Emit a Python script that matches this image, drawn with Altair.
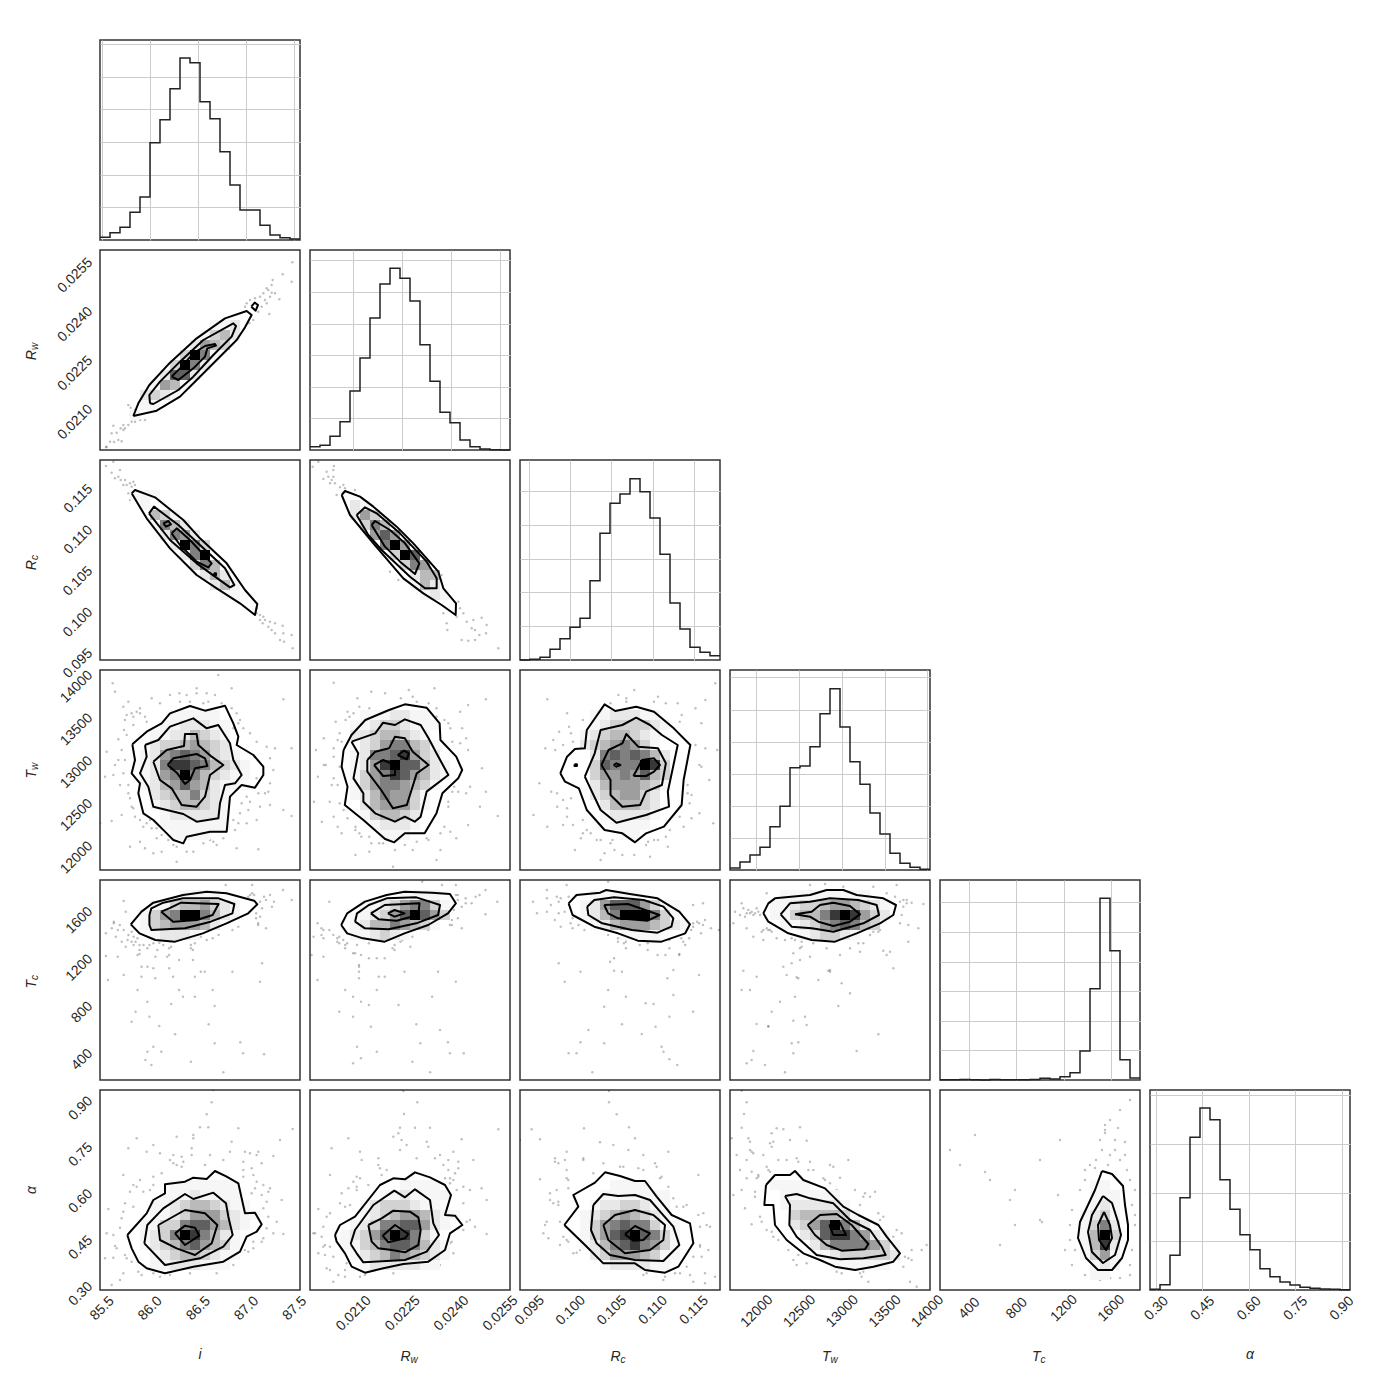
import altair as alt
import pandas as pd

FONT = "Liberation Sans"
INK = "#262626"

# parameter ranges, tick values, tick formats, names
ranges = [(85.482, 87.559), (0.019672, 0.025807), (0.09387, 0.1182), (11690, 14032), (155, 1845), (0.2806, 0.927)]
ticks = [[85.5, 86.0, 86.5, 87.0, 87.5], [0.0210, 0.0225, 0.0240, 0.0255], [0.095, 0.100, 0.105, 0.110, 0.115],
         [12000, 12500, 13000, 13500, 14000], [400, 800, 1200, 1600], [0.30, 0.45, 0.60, 0.75, 0.90]]
formats = [".1f", ".4f", ".3f", "d", "d", ".2f"]
symbols = [("i", ""), ("R", "w"), ("R", "c"), ("T", "w"), ("T", "c"), ("α", "")]
xpad = [18, 23, 20, 21, 18, 18]

# histogram heights, 20 bins per parameter, and horizontal grid step
hist_i = [2.7, 7.3, 12.7, 27.7, 43, 97.3, 120.3, 151.3, 182, 177.3, 138.3, 121.3, 88.3, 55, 30, 30, 14.7, 5, 2.3, 1]
hist_rw = [3.3, 4.7, 13.7, 28.3, 59, 92, 132, 166, 181.7, 171.7, 149, 105.3, 68.7, 37.7, 27.3, 10, 3.3, 1, .3, 0]
hist_rc = [0, .7, 2.7, 10.7, 21.3, 32.7, 41.7, 79.3, 126.7, 156.7, 166, 181.3, 168.3, 142, 105.7, 57, 31, 12.7, 7.7, 4.3]
hist_tw = [2, 8, 15, 22.7, 43.3, 63.7, 102.3, 104, 123.3, 156.3, 181.3, 143, 108.3, 85.7, 57, 36, 16.7, 6.7, 2.7, .7]
hist_tc = [.2, .2, .5, .2, .1, .5, .2, .2, .3, .5, 1.7, 1, 3.3, 7.3, 29, 91.3, 181.7, 129.3, 20.3, 2]
hist_a = [.7, 5.3, 34.7, 92.3, 152.7, 182, 170.3, 110.3, 80.7, 55.3, 40.3, 21.3, 13.3, 8, 5, 2.7, 1.7, 1, .7, .3]
hists = [hist_i, hist_rw, hist_rc, hist_tw, hist_tc, hist_a]
hist_steps = [32.65, 31.6, 33.8, 32.1, 29.6, 48.7]

# reading frames: (left, top, width, height) of the scale each panel was read on
F_600 = (0, 0, 600, 600)

# every 2-D panel: contours, shaded bins (row, first column, digits 1-9) and scatter samples
panels = {}

panels[(0, 1)] = dict(
    frame=(30, 30, 600, 600),
    contours=[
        [(130,528),(145,490),(178,435),(240,368),(320,295),(405,235),(470,213),(485,225),(465,262),(440,300),(380,360),(320,420),(270,470),(200,512)],
        [(484,200),(494,188),(504,195),(497,212)],
        [(180,490),(178,465),(210,425),(270,365),(340,300),(430,250),(438,258),(425,290),(370,345),(310,410),(265,450),(190,492)],
        [(245,410),(270,385),(310,340),(345,318),(375,312),(378,317),(352,325),(345,350),(310,385),(265,420)],
    ],
    heat=[(7,11,"112"),(8,10,"1342"),(9,9,"2543"),(10,8,"3961"),(11,7,"3962"),(12,6,"2772"),(13,5,"1541"),(14,4,"2321"),(15,4,"11"),(16,3,"1")],
    points=[(50,620),(60,605),(72,606),(85,600),(95,604),(65,580),(80,578),(92,565),(105,565),(100,555),(70,557),(115,555),(125,545),(135,545),(150,540),(165,540),(122,525),(135,510),(115,495),(122,503),(130,535),(140,535),(100,570),(48,622),
            (470,190),(480,180),(495,175),(510,170),(520,160),(530,145),(545,135),(555,160),(540,170),(525,180),(515,200),(530,190),(538,222),(505,215),(548,120),(578,103),(605,125),(607,67),(568,178),(490,240),(478,250),(465,200),(535,150),(545,158)],
)
panels[(0, 2)] = dict(
    frame=F_600,
    contours=[
        [(95,100),(105,90),(165,112),(250,180),(300,235),(380,310),(435,390),(472,432),(465,465),(420,430),(350,385),(290,345),(210,265),(140,175)],
        [(147,160),(162,140),(235,195),(300,255),(375,325),(403,375),(390,382),(345,350),(290,310),(210,240)],
        [(190,190),(205,183),(213,193),(198,200)],
        [(215,220),(230,205),(270,240),(335,310),(325,322),(290,305),(240,255)],
        [(342,340),(348,340),(348,346),(342,346)],
    ],
    heat=[(3,3,"111"),(4,4,"1"),(5,5,"431"),(6,5,"1642"),(7,6,"2652"),(8,7,"2963"),(9,8,"269"),(10,9,"364"),(11,10,"242"),(12,11,"241"),(13,12,"11")],
    points=[(18,18),(35,38),(40,5),(45,55),(60,30),(62,60),(75,60),(80,75),(90,70),(95,80),(85,100),(90,120),(70,75),(100,65),(55,50),(105,75),
            (470,445),(480,465),(490,470),(510,485),(525,490),(495,480),(505,500),(515,510),(548,497),(550,520),(575,525),(540,540),(552,545),(578,565),(525,520),(480,480),(488,490),(470,460)],
)
panels[(1, 2)] = dict(
    frame=(0, 630, 600, 600),
    contours=[
        [(95,735),(105,723),(150,740),(190,770),(260,830),(310,880),(385,965),(400,1015),(438,1060),(437,1095),(395,1065),(340,1030),(280,985),(190,880),(120,795)],
        [(140,795),(165,772),(200,790),(270,850),(350,935),(380,985),(380,1015),(345,1015),(300,980),(215,900),(175,855)],
        [(185,825),(195,813),(240,840),(285,880),(328,940),(315,972),(270,935),(225,890)],
    ],
    heat=[(4,4,"21"),(5,4,"253"),(6,5,"364"),(7,6,"575"),(8,7,"695"),(9,8,"397"),(10,9,"365"),(11,10,"244"),(12,10,"142"),(13,11,"121")],
    points=[(25,635),(8,650),(72,648),(70,660),(40,687),(55,680),(65,690),(75,700),(90,712),(105,715),(135,720),(80,735),(60,700),(50,665),(70,680),(100,705),
            (445,1055),(450,1075),(460,1090),(470,1115),(490,1110),(515,1103),(530,1125),(485,1135),(495,1140),(410,1120),(412,1140),(455,1170),(475,1172),(495,1170),(528,1150),(565,1195),(508,1155),(440,1100),(400,1090),(395,975),(240,965),(265,990)],
)
panels[(0, 3)] = dict(
    frame=(30, 30, 600, 600),
    contours=[
        [(127,253),(170,215),(215,190),(240,160),(300,138),(345,152),(405,137),(430,190),(445,230),(440,255),(490,285),(520,320),(520,345),(495,383),(455,375),(420,410),(410,515),(360,515),(290,530),(280,550),(250,540),(225,515),(190,480),(160,460),(145,400),(150,370),(125,340),(135,300)],
        [(165,255),(205,240),(240,200),(310,175),(350,205),(385,195),(420,250),(430,300),(455,345),(435,370),(405,375),(390,430),(385,475),(320,485),(280,462),(190,440),(175,380),(150,340),(170,290)],
        [(190,305),(230,270),(282,258),(285,222),(320,222),(325,255),(365,290),(400,315),(360,345),(345,410),(320,440),(275,435),(245,385),(210,360)],
        [(233,315),(250,295),(320,282),(345,295),(352,318),(315,325),(300,360),(285,372),(262,340)],
    ],
    heat=[(4,7,"11111"),(5,6,"1122211"),(6,5,"11224321"),(7,5,"23345432"),(8,4,"1256765321"),(9,4,"12688764321"),(10,4,"12569643211"),(11,4,"1245754211"),(12,5,"23446321"),(13,5,"12344321"),(14,6,"1222221"),(15,6,"1111111"),(16,7,"1111")],
    points=[(68,70),(75,95),(115,125),(100,140),(125,160),(150,145),(130,170),(105,180),(85,238),(102,210),(140,155),(170,185),(185,115),(210,130),(240,105),(268,100),(320,85),(350,100),(385,45),(425,85),(375,105),(425,145),(445,190),(460,205),(500,245),(530,260),(555,265),(605,265),(540,295),(550,330),(500,355),(535,395),(580,118),(480,220),(75,315),(50,275),(45,350),(70,345),(115,375),(105,300),(120,415),(125,440),(95,465),(65,483),(30,490),(135,470),(200,505),(215,525),(235,540),(250,555),(150,545),(165,565),(190,580),(215,575),(260,605),(310,575),(370,545),(380,555),(435,510),(445,490),(480,425),(475,450),(510,440),(540,435),(580,450),(605,468),(500,480),(470,490),(440,565),(505,568),(320,100),(340,130),(160,500),(180,480),(120,560),
            (150,160),(165,170),(110,165),(130,195),(110,225),(95,270),(85,300),(100,340),(90,375),(115,400),(130,445),(150,480),(170,490),(185,505),(200,535),(260,560),(290,575),(340,550),(360,540),(400,535),(430,480),(450,460),(455,430),(470,410),(540,370),(525,400),(505,400),(450,180),(440,160),(430,205),(395,130),(355,125),(290,105),(300,125),(270,125)],
)
panels[(1, 3)] = dict(
    frame=(0, 0, 506, 600),
    contours=[
        [(85,240),(105,195),(140,150),(200,120),(240,103),(295,113),(328,160),(330,210),(370,260),(385,300),(375,325),(335,370),(320,430),(290,490),(240,490),(213,517),(190,507),(135,450),(88,405),(95,350),(80,290)],
        [(105,215),(165,190),(185,158),(215,165),(240,148),(280,165),(300,205),(320,250),(350,315),(295,365),(280,440),(265,455),(240,440),(215,455),(165,430),(135,395),(135,370),(110,325),(122,250)],
        [(145,270),(165,245),(200,235),(215,200),(240,205),(260,245),(300,285),(270,310),(245,405),(210,415),(180,360),(145,305)],
        [(162,285),(185,270),(215,285),(215,315),(185,318)],
        [(222,255),(238,242),(250,250),(245,268)],
    ],
    heat=[(4,5,"1112211"),(5,4,"112332111"),(6,4,"22344321"),(7,5,"23566431"),(8,4,"126678532"),(9,4,"1258977421"),(10,4,"1356875421"),(11,4,"135665431"),(12,4,"12465531"),(13,5,"2455531"),(14,5,"134432"),(15,6,"12221"),(16,7,"111")],
    points=[(60,38),(155,65),(190,70),(250,60),(260,80),(315,55),(445,88),(400,105),(380,125),(120,85),(95,125),(110,130),(65,155),(75,190),(35,205),(15,240),(60,235),(40,285),(20,320),(55,345),(70,345),(10,395),(50,395),(85,420),(30,455),(70,470),(80,490),(115,480),(130,500),(155,520),(185,520),(150,545),(115,555),(210,590),(270,515),(295,505),(330,490),(355,485),(400,465),(475,438),(430,410),(350,395),(375,365),(405,350),(445,365),(435,295),(400,240),(360,215),(355,175),(385,175),(395,205),(300,100),(320,115),(340,150),(150,115),(180,135),(260,540),(330,540),(370,505),(320,570),
            (100,140),(125,110),(115,155),(90,150),(70,210),(80,215),(60,260),(35,285),(75,290),(60,325),(75,400),(60,440),(95,445),(115,470),(125,490),(150,500),(175,520),(215,540),(240,525),(300,510),(340,470),(350,410),(395,370),(365,350),(360,365),(380,220),(350,160),(230,85),(270,95),(320,140)],
)
panels[(2, 3)] = dict(
    frame=(531, 0, 506, 600),
    contours=[
        [(633,310),(650,260),(670,237),(695,235),(700,180),(745,103),(772,123),(825,110),(870,125),(920,175),(962,225),(945,330),(940,405),(895,470),(850,490),(822,517),(790,490),(745,480),(700,420),(680,355),(645,335)],
        [(695,320),(720,250),(735,180),(790,165),(825,143),(860,165),(890,195),(930,225),(905,365),(908,410),(850,435),(775,458),(735,420)],
        [(737,285),(755,240),(790,220),(800,192),(830,230),(880,235),(900,280),(890,345),(850,365),(835,405),(790,410),(760,375),(760,330)],
        [(768,285),(775,280),(785,285),(775,290)],
        [(818,318),(840,270),(870,265),(885,285),(870,305),(850,318)],
        [(669,283),(675,283),(675,288),(669,288)],
    ],
    heat=[(4,7,"1122211"),(5,7,"12333321"),(6,6,"12344321"),(7,6,"23456531"),(8,7,"26767642"),(9,7,"37666983"),(10,7,"35565743"),(11,7,"24555431"),(12,7,"2345532"),(13,8,"244432"),(14,8,"122221"),(15,9,"1111"),(16,10,"11")],
    points=[(600,88),(665,215),(630,185),(655,170),(690,150),(640,225),(595,235),(620,240),(780,75),(800,95),(820,60),(880,80),(930,100),(940,135),(975,115),(990,160),(1000,90),(1025,40),(1000,235),(985,285),(955,345),(965,375),(1010,330),(985,430),(1020,460),(1030,240),(965,445),(910,480),(945,470),(870,510),(855,515),(905,530),(860,560),(820,555),(760,520),(745,550),(735,570),(790,555),(690,450),(700,480),(650,415),(625,410),(610,365),(565,435),(600,470),(580,340),(660,385),(725,510),(685,505),(640,465),(670,540),
            (650,130),(660,190),(615,210),(625,370),(640,390),(650,440),(665,465),(690,490),(710,490),(735,510),(765,510),(770,540),(850,525),(880,510),(900,500),(935,440),(960,400),(955,370),(990,290),(975,225),(935,155),(900,100),(870,95),(800,85),(760,100),(715,140)],
)
panels[(0, 4)] = dict(
    frame=(0, 0, 506, 600),
    contours=[
        [(78,133),(105,95),(135,68),(210,45),(270,35),(320,40),(390,62),(398,73),(375,100),(320,130),(260,160),(190,185),(140,180),(100,160)],
        [(125,105),(130,85),(160,68),(210,55),(300,55),(340,72),(335,100),(280,125),(215,145),(130,150),(125,135)],
        [(155,95),(175,85),(205,68),(300,72),(285,105),(245,120),(185,125)],
    ],
    heat=[(1,8,"1111"),(2,5,"113445321"),(3,4,"1356996421"),(4,4,"13455542"),(5,5,"12221")],
    points=[(318,15),(385,15),(463,30),(430,45),(390,45),(405,65),(440,65),(485,60),(405,110),(400,135),(420,145),(380,45),(60,63),(65,95),(35,125),(30,145),(45,150),(70,180),(15,160),(55,185),(80,155),(90,185),(100,195),(125,195),(160,195),(180,200),(235,210),(230,195),(270,180),(15,228),(45,230),(100,222),(105,260),(140,230),(170,230),(200,240),(235,240),(265,275),(335,275),(240,290),(185,290),(140,295),(60,285),(20,300),(105,290),(285,330),(210,350),(120,365),(180,372),(290,378),(90,395),(125,410),(80,425),(150,438),(275,433),(190,463),(135,500),(290,490),(355,487),(120,515),(155,515),(362,520),(415,523),(115,540),(130,555),(230,545),(312,577),(405,305),(410,250),(240,350),(95,330),(200,330),
            (35,130),(50,135),(60,150),(72,165),(85,170),(95,175),(40,170),(85,195),(100,210),(95,225),(110,195),(135,190),(150,188),(175,205),(230,205),(240,190),(255,170),(285,175),(300,165),(335,150),(350,140),(395,115),(395,100),(410,85),(420,60),(435,80),(415,50),(385,40),(375,50),(400,130),(80,185),(65,200),(120,205),(145,210),(175,225),(120,260),(135,265),(175,265),(255,275)],
)
panels[(1, 4)] = dict(
    frame=(531, 0, 506, 600),
    contours=[
        [(610,135),(625,100),(670,65),(725,45),(770,35),(840,38),(885,42),(900,70),(880,100),(830,135),(770,160),(720,185),(665,175),(625,160)],
        [(645,125),(650,100),(680,75),(725,55),(800,52),(860,75),(855,105),(800,130),(730,148),(670,145)],
        [(685,100),(720,75),(808,70),(805,105),(750,122),(705,118)],
        [(728,100),(745,90),(770,100),(745,110)],
    ],
    heat=[(1,9,"1111"),(2,5,"112356631"),(3,5,"123579753"),(4,4,"124465431"),(5,4,"112321")],
    points=[(815,5),(865,15),(900,15),(975,30),(905,45),(950,50),(925,70),(1005,65),(975,103),(885,135),(905,115),(915,145),(580,65),(560,145),(550,130),(540,170),(565,175),(600,185),(620,195),(645,220),(680,235),(740,205),(760,185),(720,235),(785,200),(535,225),(565,230),(655,255),(655,275),(855,275),(770,275),(705,290),(655,295),(550,300),(720,290),(900,305),(620,330),(640,350),(700,330),(840,350),(660,365),(680,375),(605,395),(640,410),(685,440),(800,433),(860,450),(650,500),(700,515),(810,490),(880,487),(885,520),(920,520),(660,535),(640,550),(790,545),(835,577),(755,375),
            (565,150),(580,150),(590,165),(605,170),(615,180),(605,190),(625,190),(650,195),(680,190),(745,195),(745,210),(765,180),(790,170),(830,150),(850,145),(890,135),(895,90),(900,45),(905,60),(915,80),(925,55),(940,70),(960,45),(890,120),(640,220),(600,175),(560,165),(620,205),(660,225),(700,235),(655,260)],
)
panels[(2, 4)] = dict(
    frame=(1062, 0, 506, 600),
    contours=[
        [(1185,70),(1205,45),(1265,38),(1280,30),(1340,42),(1410,55),(1465,95),(1492,133),(1480,160),(1420,185),(1360,182),(1310,160),(1250,140),(1195,105)],
        [(1232,80),(1250,60),(1300,52),(1375,60),(1425,80),(1450,115),(1445,140),(1410,158),(1345,150),(1270,130),(1235,105)],
        [(1275,75),(1335,72),(1415,105),(1385,122),(1310,115),(1285,100)],
    ],
    heat=[(1,7,"11111"),(2,6,"1257775311"),(3,6,"1246999631"),(4,7,"1245554321"),(5,10,"1111")],
    points=[(1130,30),(1180,15),(1130,55),(1160,65),(1095,65),(1105,100),(1130,95),(1150,120),(1165,140),(1195,145),(1285,5),(1500,75),(1525,70),(1530,120),(1515,130),(1545,145),(1520,160),(1565,150),(1490,175),(1480,195),(1440,205),(1465,222),(1310,185),(1330,205),(1365,195),(1385,210),(1410,225),(1300,235),(1290,245),(1160,250),(1215,275),(1300,272),(1320,275),(1450,270),(1515,285),(1435,295),(1175,305),(1285,330),(1330,350),(1380,370),(1400,372),(1275,380),(1450,345),(1500,395),(1405,440),(1235,450),(1440,410),(1320,433),(1370,462),(1215,487),(1275,490),(1420,500),(1185,520),(1205,520),(1425,515),(1440,538),(1460,555),(1245,577),
            (1155,50),(1165,55),(1185,50),(1175,95),(1160,100),(1140,75),(1190,130),(1195,115),(1210,135),(1225,150),(1285,165),(1310,175),(1330,185),(1385,190),(1440,180),(1470,175),(1500,130),(1510,125),(1495,150),(1475,185),(1345,170),(1430,225),(1465,225),(1325,190),(1525,135),(1500,140)],
)
panels[(3, 4)] = dict(
    frame=F_600,
    contours=[
        [(100,100),(115,70),(135,55),(240,45),(290,30),(340,30),(380,45),(460,55),(498,75),(490,105),(450,130),(380,160),(315,185),(245,180),(175,160),(115,125)],
        [(152,103),(180,70),(240,65),(300,55),(385,60),(440,75),(447,105),(400,130),(310,155),(245,145),(185,140)],
        [(195,103),(245,95),(270,75),(310,68),(360,78),(390,103),(360,125),(310,138),(265,125),(240,110)],
    ],
    heat=[(1,5,"111111111"),(2,4,"112334554321"),(3,4,"113446898532"),(4,5,"1123567643"),(5,7,"123321")],
    points=[(240,15),(285,12),(340,20),(430,20),(500,15),(110,40),(155,38),(35,70),(15,95),(50,100),(70,105),(55,90),(80,85),(10,130),(50,145),(100,150),(120,150),(100,180),(70,170),(140,175),(165,180),(520,60),(530,70),(545,68),(580,72),(515,105),(510,130),(535,135),(565,145),(535,185),(445,155),(420,165),(480,215),(460,212),(470,225),(390,215),(360,205),(330,225),(215,200),(190,220),(210,240),(240,230),(160,260),(185,250),(300,275),(490,265),(40,272),(80,290),(205,295),(265,300),(170,285),(335,310),(35,330),(60,330),(360,340),(195,350),(150,365),(325,378),(125,395),(225,410),(80,432),(115,440),(230,435),(190,422),(445,463),(185,490),(205,487),(190,520),(380,513),(70,513),(65,540),(50,550),(165,577),(105,555),
            (60,100),(65,95),(75,100),(45,110),(85,95),(90,105),(115,150),(125,155),(110,145),(95,155),(30,105),(40,85),(185,175),(195,180),(215,185),(210,205),(250,190),(290,205),(400,190),(385,190),(430,155),(450,150),(510,65),(520,80),(530,60),(495,50),(470,40),(300,270),(295,272),(200,292),(115,438)],
)
panels[(0, 5)] = dict(
    frame=(270, 15, 600, 600),
    contours=[
        [(352,450),(410,385),(430,345),(465,325),(465,298),(525,290),(550,278),(590,282),(615,258),(650,275),(685,295),(705,385),(735,383),(755,418),(740,440),(710,455),(690,500),(640,530),(550,545),(465,565),(410,550),(385,530),(365,490)],
        [(403,475),(412,420),(460,370),(525,327),(550,342),(610,323),(648,355),(655,395),(668,450),(640,485),(570,520),(465,540)],
        [(445,420),(525,375),(585,385),(622,420),(605,475),(555,510),(500,490),(450,465)],
        [(495,445),(525,422),(555,428),(568,452),(525,480)],
    ],
    heat=[(9,7,"1111111"),(10,6,"11121111"),(11,5,"1123443211"),(12,5,"11235553211"),(13,4,"11336775421"),(14,4,"1236986421"),(15,4,"1234675431"),(16,5,"123443211"),(17,5,"11222111")],
    points=[(610,15),(605,52),(590,88),(570,127),(595,127),(685,130),(848,132),(550,150),(500,155),(380,160),(665,170),(810,165),(355,190),(410,200),(430,180),(450,205),(490,210),(545,210),(600,210),(705,200),(745,200),(790,213),(700,230),(755,235),(725,250),(490,235),(515,245),(340,270),(430,275),(455,265),(390,285),(370,300),(420,315),(780,310),(725,325),(755,330),(815,345),(770,350),(370,365),(340,380),(295,372),(800,410),(330,428),(290,445),(820,447),(760,460),(730,470),(315,483),(285,520),(310,518),(350,520),(385,560),(340,565),(305,600),(330,585),(430,565),(540,565),(620,565),(670,540),(715,500),(770,430),
            (550,160),(545,190),(515,215),(480,225),(500,240),(520,230),(585,240),(640,225),(660,200),(720,205),(740,210),(730,270),(740,290),(760,300),(735,310),(775,320),(700,255),(700,275),(430,300),(400,320),(380,305),(360,320),(345,355),(335,400),(310,450),(320,490),(345,510),(365,530),(395,570),(450,575),(480,570),(625,535),(705,495),(730,490),(790,445),(755,470),(775,395),(760,370)],
)
panels[(1, 5)] = dict(
    frame=F_600,
    contours=[
        [(75,435),(90,405),(135,380),(210,285),(250,265),(285,268),(315,247),(360,262),(405,285),(423,315),(405,375),(435,377),(457,405),(420,430),(405,480),(355,515),(280,522),(220,535),(165,548),(125,530),(105,490),(80,455)],
        [(122,462),(135,420),(190,345),(253,302),(285,322),(315,298),(360,330),(370,400),(387,435),(350,485),(285,510),(160,517),(140,490)],
        [(175,405),(215,385),(250,362),(300,365),(325,382),(332,420),(325,465),(285,487),(245,480),(205,475),(185,455)],
        [(218,437),(255,405),(295,432),(285,445),(235,457)],
    ],
    heat=[(9,9,"1111"),(10,7,"1121111"),(11,5,"12333211"),(12,5,"1234554211"),(13,4,"1236677521"),(14,3,"1235798631"),(15,3,"11346776421"),(16,4,"1234654321"),(17,5,"12222211")],
    points=[(280,3),(322,37),(282,72),(270,113),(315,113),(360,113),(565,118),(115,145),(250,140),(290,165),(350,155),(455,148),(65,175),(150,185),(270,180),(390,195),(430,185),(155,210),(205,225),(320,205),(415,210),(490,210),(445,235),(140,260),(60,255),(230,240),(420,265),(175,285),(130,275),(95,310),(140,300),(440,300),(515,295),(25,357),(105,350),(460,340),(530,330),(60,370),(470,395),(40,410),(10,430),(495,410),(530,432),(45,465),(420,460),(25,490),(45,495),(430,490),(390,525),(85,555),(70,575),(50,535),(150,560),(250,550),(340,530),(105,540),
            (205,205),(210,235),(215,255),(265,130),(275,150),(355,170),(375,205),(400,225),(415,240),(435,250),(405,265),(420,280),(445,215),(430,270),(460,290),(480,300),(150,265),(140,290),(115,295),(120,345),(90,340),(50,380),(35,440),(15,430),(60,470),(40,470),(70,500),(60,540),(110,520),(105,560),(165,555),(280,530),(340,520),(405,495),(425,455),(460,420),(445,415),(480,390)],
)
panels[(2, 5)] = dict(
    frame=(630, 0, 600, 600),
    contours=[
        [(763,405),(805,350),(790,315),(855,278),(885,247),(930,258),(975,273),(1005,273),(1040,320),(1085,375),(1140,400),(1150,460),(1105,530),(1065,548),(1005,540),(975,520),(880,520),(825,465)],
        [(850,345),(880,312),(925,318),(975,315),(1020,330),(1055,370),(1090,410),(1108,465),(1060,513),(975,510),(900,495),(860,460),(843,420)],
        [(880,405),(915,375),(975,360),(1030,375),(1065,405),(1060,450),(1020,480),(945,490),(895,450)],
        [(945,433),(975,408),(1020,430),(1000,450),(970,452)],
    ],
    heat=[(9,9,"1111"),(10,8,"1111111"),(11,7,"12233211"),(12,6,"123454321"),(13,6,"1356766311"),(14,6,"1357897631"),(15,6,"1246786531"),(16,7,"235554311"),(17,8,"1222211")],
    points=[(897,3),(897,37),(920,73),(665,118),(822,115),(957,112),(690,148),(630,150),(975,145),(870,157),(910,165),(770,185),(735,215),(820,205),(955,180),(1075,185),(1000,195),(940,230),(1035,220),(690,268),(770,265),(1055,260),(1165,255),(720,310),(775,295),(730,340),(745,335),(1090,325),(1120,350),(1060,320),(1180,370),(750,395),(705,405),(1170,410),(1200,410),(770,450),(715,445),(1170,470),(800,488),(1150,500),(1195,480),(1185,550),(1150,575),(1215,560),(1110,550),(875,520),(895,535),(1000,555),(1060,570),(750,465),
            (735,205),(745,220),(765,210),(770,240),(775,270),(740,300),(720,330),(745,345),(710,395),(700,430),(760,440),(775,455),(790,490),(810,480),(820,210),(850,250),(880,220),(930,230),(985,235),(1000,240),(1040,230),(1050,265),(1075,290),(1100,350),(1130,345),(1165,375),(1190,405),(1170,465),(1175,500),(1130,530),(1140,555),(1095,550),(1185,580),(920,535),(1010,550),(1065,560)],
)
panels[(3, 5)] = dict(
    frame=F_600,
    contours=[
        [(108,285),(135,255),(180,255),(195,243),(220,270),(285,295),(340,350),(385,375),(445,405),(470,440),(510,490),(490,515),(430,530),(375,540),(315,530),(270,510),(220,490),(170,450),(135,405),(130,345),(103,345)],
        [(165,318),(200,312),(240,325),(310,340),(360,390),(420,420),(455,470),(467,495),(400,505),(330,508),(260,495),(200,440),(178,405),(180,345)],
        [(233,405),(270,375),(320,372),(365,405),(415,462),(405,478),(335,482),(290,465),(255,435)],
        [(298,405),(330,398),(348,435),(310,435)],
    ],
    heat=[(9,4,"1111"),(10,5,"111111"),(11,5,"1222221"),(12,6,"3444431"),(13,6,"23579642"),(14,7,"237886521"),(15,8,"246666531"),(16,9,"12333332"),(17,10,"111111")],
    points=[(35,2),(50,37),(42,72),(35,113),(5,145),(210,112),(160,118),(125,130),(140,115),(55,145),(230,152),(120,160),(65,185),(20,195),(100,195),(180,150),(205,215),(235,240),(50,210),(85,260),(30,240),(10,315),(75,320),(45,355),(90,380),(65,403),(125,170),(280,265),(355,210),(310,230),(330,263),(375,300),(350,335),(405,310),(420,320),(435,305),(390,345),(445,370),(460,380),(500,420),(515,430),(545,480),(575,480),(590,465),(535,505),(520,530),(560,590),(540,575),(415,575),(390,550),(335,550),(190,510),(200,525),(145,450),(125,425),(300,225),
            (60,180),(70,190),(110,230),(115,240),(85,255),(80,265),(120,245),(145,210),(170,210),(200,205),(240,215),(250,240),(285,270),(300,280),(320,300),(400,320),(130,155),(60,155),(65,245),(50,265),(35,300),(75,305),(95,395),(110,420),(130,440),(175,480),(205,495),(230,520),(450,390),(490,440),(500,460),(525,500),(545,510),(400,545),(395,560),(320,545)],
)
panels[(4, 5)] = dict(
    frame=(940, 1090, 200, 200),
    contours=[
        [(1102,1171),(1112,1174),(1123,1186),(1125,1205),(1128,1225),(1128,1240),(1122,1258),(1112,1270),(1098,1270),(1086,1258),(1078,1238),(1080,1222),(1088,1205),(1095,1190)],
        [(1103,1196),(1112,1203),(1118,1222),(1121,1235),(1115,1255),(1103,1263),(1092,1252),(1088,1232),(1092,1215)],
        [(1104,1212),(1110,1225),(1112,1238),(1106,1250),(1099,1240),(1098,1225)],
    ],
    heat=[(9,15,"11"),(10,15,"111"),(11,15,"121"),(12,14,"1231"),(13,14,"1362"),(14,14,"1493"),(15,14,"1482"),(16,14,"1351"),(17,15,"121"),(18,15,"11")],
    points=[(950,1150),(960,1165),(985,1172),(1010,1200),(1015,1190),(1040,1220),(1042,1222),(1058,1195),(1040,1160),(1130,1100),(1110,1120),(1118,1128),(1105,1133),(1125,1142),(1102,1150),(1115,1150),(1096,1160),(1120,1160),(1108,1165),(1127,1170),(1095,1168),(1085,1180),(1135,1190),(1132,1205),(1135,1225),(1072,1210),(1070,1240),(1065,1250),(1072,1265),(1132,1250),(1130,1265),(1085,1275),(1100,1280),(1120,1278),(990,1180),(1000,1245),(975,1135),(1060,1140),
            (1105,1130),(1115,1140),(1110,1155),(1125,1155),(1100,1140),(1090,1165),(1130,1180),(1105,1125),(1135,1215),(1070,1225),(1075,1250),(1130,1275),(1110,1278),(1085,1170),(1120,1110),(1080,1190),(1015,1225)],
)

greys = ["#f6f6f6", "#e8e8e8", "#d2d2d2", "#bababa", "#9e9e9e", "#808080", "#606060", "#383838", "#000000"]


def xval(i, f):
    lo, hi = ranges[i]
    return lo + (hi - lo) * f


def yval(i, f):
    lo, hi = ranges[i]
    return hi - (hi - lo) * f


def axis_x(c, r, grid=False):
    if r != 5:
        return alt.Axis(values=ticks[c], grid=True, gridColor="#cccccc", gridWidth=1, labels=False, ticks=False,
                        domain=False, title=None) if grid else None
    return alt.Axis(values=ticks[c], format=formats[c], grid=grid, gridColor="#cccccc", gridWidth=1, ticks=False,
                    domain=False, title=None, labelAngle=-45, labelAlign="center", labelBaseline="middle",
                    labelPadding=xpad[c], labelFontSize=14, labelFont=FONT, labelColor=INK,
                    labelOverlap=False, labelFlush=False, labelBound=False)


def axis_y(r, c):
    if c != 0:
        return None
    return alt.Axis(values=ticks[r], format=formats[r], grid=False, ticks=False, domain=False, title=None,
                    labelAngle=-45, labelAlign="right", labelBaseline="middle", labelPadding=10,
                    labelFontSize=14, labelFont=FONT, labelColor=INK, labelOverlap=False,
                    labelFlush=False, labelBound=False)


def text_layers(c, r):
    layers = []
    if r == 5:
        a, b = symbols[c]
        if b:
            layers.append(alt.Chart(pd.DataFrame({"t": [a]})).mark_text(font=FONT, fontStyle="italic", fontSize=14, align="right", color=INK)
                          .encode(x=alt.value(100.5), y=alt.value(267), text="t:N"))
            layers.append(alt.Chart(pd.DataFrame({"t": [b]})).mark_text(font=FONT, fontStyle="italic", fontSize=10, align="left", color=INK)
                          .encode(x=alt.value(100.5), y=alt.value(270), text="t:N"))
        else:
            layers.append(alt.Chart(pd.DataFrame({"t": [a]})).mark_text(font=FONT, fontStyle="italic", fontSize=14, color=INK)
                          .encode(x=alt.value(100), y=alt.value(265), text="t:N"))
    if c == 0 and r > 0:
        a, b = symbols[r]
        if b:
            layers.append(alt.Chart(pd.DataFrame({"t": [a]})).mark_text(font=FONT, fontStyle="italic", fontSize=14, angle=270, align="right", color=INK)
                          .encode(x=alt.value(-68), y=alt.value(100), text="t:N"))
            layers.append(alt.Chart(pd.DataFrame({"t": [b]})).mark_text(font=FONT, fontStyle="italic", fontSize=10, angle=270, align="left", color=INK)
                          .encode(x=alt.value(-65), y=alt.value(100), text="t:N"))
        else:
            layers.append(alt.Chart(pd.DataFrame({"t": [a]})).mark_text(font=FONT, fontStyle="italic", fontSize=14, angle=270, color=INK)
                          .encode(x=alt.value(-68), y=alt.value(100), text="t:N"))
    return layers


def panel_2d(c, r):
    p = panels[(c, r)]
    ox, oy, w, h = p["frame"]
    sx = alt.Scale(domain=list(ranges[c]), nice=False, zero=False)
    sy = alt.Scale(domain=list(ranges[r]), nice=False, zero=False)
    X = alt.X("x:Q", scale=sx, axis=axis_x(c, r))
    Y = alt.Y("y:Q", scale=sy, axis=axis_y(r, c))

    pts = pd.DataFrame([{"x": xval(c, (a - ox) / w), "y": yval(r, (b - oy) / h)} for a, b in p["points"]])
    cells = []
    for row, col, digits in p["heat"]:
        for k, d in enumerate(digits):
            cells.append({"x": xval(c, (col + k) / 20), "x2": xval(c, (col + k + 1) / 20),
                          "y": yval(r, row / 20), "y2": yval(r, (row + 1) / 20), "v": int(d)})
    lines = []
    for g, loop in enumerate(p["contours"]):
        for k, (a, b) in enumerate(list(loop) + [loop[0]]):
            lines.append({"x": xval(c, (a - ox) / w), "y": yval(r, (b - oy) / h), "g": g, "k": k})

    layers = [
        alt.Chart(pts).mark_circle(size=6, color="#000000", opacity=0.25, clip=True).encode(x=X, y=Y),
        alt.Chart(pd.DataFrame(cells)).mark_rect(strokeWidth=0).encode(
            x=X, x2="x2:Q", y=Y, y2="y2:Q",
            color=alt.Color("v:O", scale=alt.Scale(domain=list(range(1, 10)), range=greys), legend=None)),
        alt.Chart(pd.DataFrame(lines)).mark_line(color="#000000", strokeWidth=2, strokeJoin="round", clip=True).encode(
            x=X, y=Y, detail="g:N", order="k:Q"),
    ] + text_layers(c, r)
    return alt.layer(*layers).resolve_scale(color="independent").properties(width=200, height=200)


def panel_hist(c):
    top = 200.0
    sx = alt.Scale(domain=list(ranges[c]), nice=False, zero=False)
    sy = alt.Scale(domain=[0, top], nice=False, zero=False)
    grid_y = [hist_steps[c] * k for k in range(1, 7) if hist_steps[c] * k < top]
    heights = hists[c]
    df = pd.DataFrame({"x": [xval(c, k / 20) for k in range(21)], "y": list(heights) + [heights[-1]], "k": list(range(21))})
    X = alt.X("x:Q", scale=sx, axis=axis_x(c, c, grid=True))
    Y = alt.Y("y:Q", scale=sy, axis=alt.Axis(values=grid_y, grid=True, gridColor="#cccccc", gridWidth=1, labels=False,
                                             ticks=False, domain=False, title=None))
    line = alt.Chart(df).mark_line(color="#222222", strokeWidth=1.5, interpolate="step-after").encode(x=X, y=Y, order="k:Q")
    return alt.layer(line, *text_layers(c, c)).properties(width=200, height=200)


def blank():
    return alt.Chart(pd.DataFrame({"t": [""]})).mark_point(opacity=0).encode(x=alt.value(0), y=alt.value(0)).properties(
        width=200, height=200, view=alt.ViewBackground(stroke="transparent"))


cells_out = []
for r in range(6):
    for c in range(6):
        if c < r:
            cells_out.append(panel_2d(c, r))
        elif c == r:
            cells_out.append(panel_hist(c))
        else:
            cells_out.append(blank())

chart = alt.concat(*cells_out, columns=6, spacing=10, bounds="flush", background="white",
                   padding={"left": 16, "top": 28, "right": 5, "bottom": 5}).configure_view(
    stroke="#333333", strokeWidth=1.5)

chart.save("out.html", embed_options={"renderer": "svg", "actions": False})
